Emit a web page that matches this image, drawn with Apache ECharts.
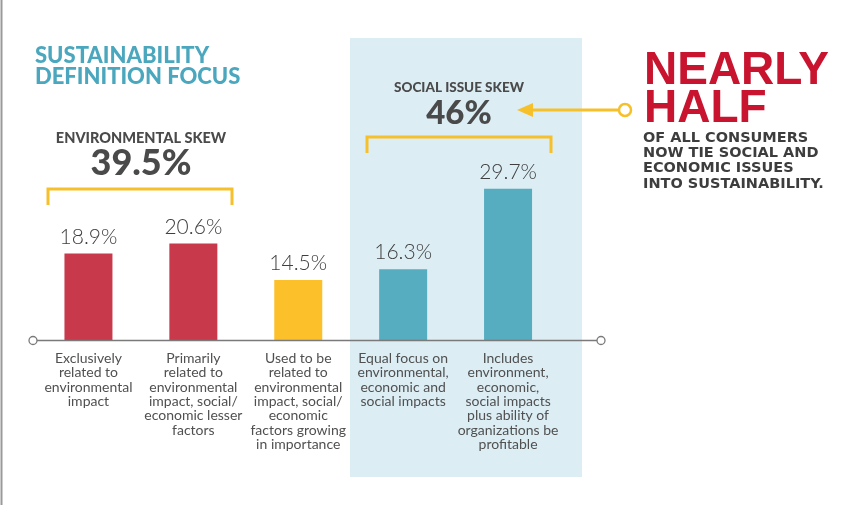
<!DOCTYPE html>
<html>
<head>
<meta charset="utf-8">
<script src="https://cdn.jsdelivr.net/npm/echarts@6/dist/echarts.min.js"></script>
<style>
html,body{margin:0;padding:0;background:#fff;}
#chart{width:864px;height:505px;}
</style>
</head>
<body>
<div id="chart"></div>
<script>
var categories = [
  "Exclusively\nrelated to\nenvironmental\nimpact",
  "Primarily\nrelated to\nenvironmental\nimpact, social/\neconomic lesser\nfactors",
  "Used to be\nrelated to\nenvironmental\nimpact, social/\neconomic\nfactors growing\nin importance",
  "Equal focus on\nenvironmental,\neconomic and\nsocial impacts",
  "Includes\nenvironment,\neconomic,\nsocial impacts\nplus ability of\norganizations be\nprofitable"
];
var values = [18.9, 20.6, 14.5, 16.3, 29.7];
var barColors = ["#c83a4b", "#c83a4b", "#fcc02b", "#56adc0", "#56adc0"];
var envGroup = [0, 1];
var socialGroup = [3, 4];

function sumOf(idx) {
  var s = 0;
  idx.forEach(function (i) { s += values[i]; });
  return Math.round(s * 10) / 10;
}
function fmt(v) {
  return (Math.round(v * 10) % 10 === 0 ? v.toFixed(0) : v.toFixed(1)) + "%";
}

var YEL = "#f6c02a";
var DARK = "#4a4a4a";
var SMALL = "bold 14.5px 'DejaVu Sans'";

var chart = echarts.init(document.getElementById("chart"), null, {renderer: "canvas"});
chart.setOption({
  backgroundColor: "#ffffff",
  animation: false,
  grid: {left: 36, right: 303.5, top: 100, bottom: 165, containLabel: false},
  xAxis: {
    type: "category",
    data: categories,
    axisLine: {show: false},
    axisTick: {show: false},
    axisLabel: {
      interval: 0,
      margin: 11,
      fontFamily: "Lato",
      fontSize: 14,
      lineHeight: 14.4,
      color: "#505050",
      align: "center",
      verticalAlign: "top"
    }
  },
  yAxis: {
    type: "value",
    min: 4.5,
    max: 44.5,
    show: false,
    splitLine: {show: false}
  },
  series: [{
    type: "bar",
    barWidth: 48,
    data: values.map(function (v, i) {
      return {value: v, itemStyle: {color: barColors[i]}};
    }),
    label: {
      show: true,
      position: "top",
      distance: 6,
      formatter: function (p) { return p.value.toFixed(1) + "%"; },
      fontFamily: "Lato",
      fontWeight: 300,
      fontSize: 21,
      color: "#3f3f3f"
    },
    z: 3
  }],
  graphic: {
    elements: [
      {type: "rect", z: -5, shape: {x: 350, y: 38, width: 232, height: 439}, style: {fill: "#dcedf4"}},
      {type: "line", z: 1, shape: {x1: 1.5, y1: 0, x2: 1.5, y2: 505}, style: {stroke: "#9a9a9a", lineWidth: 2}},
      {type: "line", z: 10, shape: {x1: 33, y1: 340.5, x2: 601, y2: 340.5}, style: {stroke: "#7a7a7a", lineWidth: 1.5}},
      {type: "circle", z: 11, shape: {cx: 33, cy: 340.5, r: 4}, style: {fill: "#ffffff", stroke: "#7a7a7a", lineWidth: 1.3}},
      {type: "circle", z: 11, shape: {cx: 601, cy: 340.5, r: 4}, style: {fill: "#ffffff", stroke: "#7a7a7a", lineWidth: 1.3}},

      {type: "text", z: 10, style: {text: "SUSTAINABILITY", x: 35, y: 56, font: "900 22px Lato", fill: "#4ba7bd", textVerticalAlign: "middle"}},
      {type: "text", z: 10, style: {text: "DEFINITION FOCUS", x: 35, y: 77, font: "900 22px Lato", fill: "#4ba7bd", textVerticalAlign: "middle"}},

      {type: "text", z: 10, style: {text: "ENVIRONMENTAL SKEW", x: 141, y: 138, font: "900 14.5px Lato", fill: DARK, textAlign: "center", textVerticalAlign: "middle"}},
      {type: "text", z: 10, style: {text: fmt(sumOf(envGroup)), x: 141, y: 163, font: "900 36px Lato", fill: DARK, textAlign: "center", textVerticalAlign: "middle"}},
      {type: "polyline", z: 10, shape: {points: [[48, 205], [48, 189], [232, 189], [232, 205]]}, style: {stroke: YEL, lineWidth: 3, fill: null}},

      {type: "text", z: 10, style: {text: "SOCIAL ISSUE SKEW", x: 459, y: 88, font: "900 13.5px Lato", fill: DARK, textAlign: "center", textVerticalAlign: "middle"}},
      {type: "text", z: 10, style: {text: fmt(sumOf(socialGroup)), x: 459, y: 113, font: "900 33px Lato", fill: DARK, textAlign: "center", textVerticalAlign: "middle"}},
      {type: "polyline", z: 10, shape: {points: [[367, 153], [367, 137], [551, 137], [551, 153]]}, style: {stroke: YEL, lineWidth: 3, fill: null}},

      {type: "line", z: 10, shape: {x1: 528, y1: 110, x2: 618, y2: 110}, style: {stroke: YEL, lineWidth: 3}},
      {type: "polygon", z: 10, shape: {points: [[517, 110], [533, 103], [533, 117]]}, style: {fill: YEL}},
      {type: "circle", z: 11, shape: {cx: 625, cy: 110, r: 6}, style: {fill: "#ffffff", stroke: YEL, lineWidth: 2.5}},

      {type: "text", z: 10, style: {text: "NEARLY", x: 644, y: 71, font: "bold 46px 'Liberation Sans'", fill: "#c8142f", textVerticalAlign: "middle"}},
      {type: "text", z: 10, style: {text: "HALF", x: 644, y: 109, font: "bold 46px 'Liberation Sans'", fill: "#c8142f", textVerticalAlign: "middle"}},
      {type: "text", z: 10, style: {text: "OF ALL CONSUMERS", x: 643, y: 138, font: SMALL, fill: "#3d3d3d", textVerticalAlign: "middle"}},
      {type: "text", z: 10, style: {text: "NOW TIE SOCIAL AND", x: 643, y: 153, font: SMALL, fill: "#3d3d3d", textVerticalAlign: "middle"}},
      {type: "text", z: 10, style: {text: "ECONOMIC ISSUES", x: 643, y: 168.5, font: SMALL, fill: "#3d3d3d", textVerticalAlign: "middle"}},
      {type: "text", z: 10, style: {text: "INTO SUSTAINABILITY.", x: 643, y: 184, font: SMALL, fill: "#3d3d3d", textVerticalAlign: "middle"}}
    ]
  }
});
</script>
</body>
</html>
